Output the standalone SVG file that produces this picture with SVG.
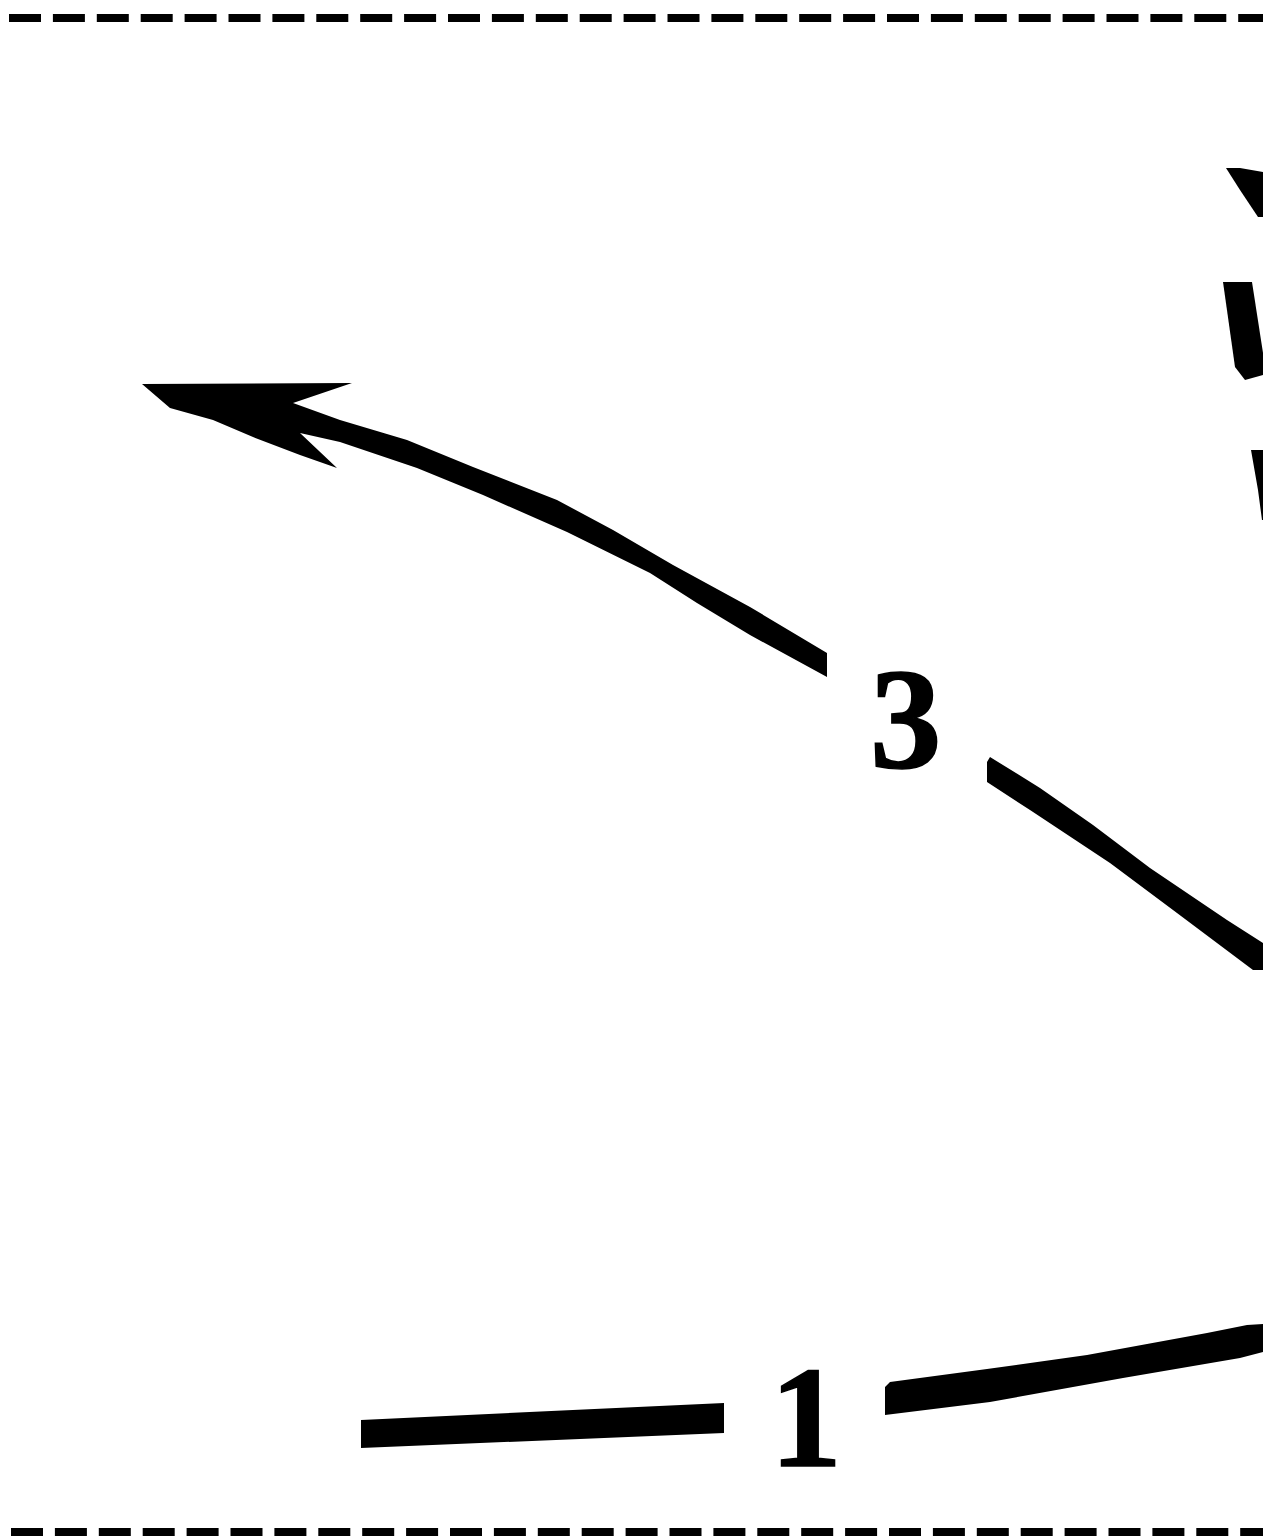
<svg xmlns="http://www.w3.org/2000/svg" width="1263" height="1540" viewBox="0 0 1263 1540">
<style>
.dash{fill:none;stroke:#000;stroke-width:8;stroke-dasharray:32 11.9}
.ink{fill:#000;stroke:none}
.num{font-family:"Liberation Serif",serif;font-weight:700;fill:#000;stroke:#000;stroke-width:1.5}
</style>
<rect width="1263" height="1540" fill="#fff"/>
<g id="boundaries">
<path class="dash" d="M9 18H1263"/>
<path class="dash" d="M11 1532H1263"/>
</g>
<g id="connectors">
<path class="ink" d="M142 384L352 383L293 403L340 420L407 440L473 467L557 500L613 530L673 565L750 607L827 653V677L750 635L697 603L650 573L567 532L483 495L417 468L340 442L300 433L337 468L300 455L253 437L213 420L170 408Z"/>
<path class="ink" d="M990 757L1040 788L1093 825L1150 868L1227 920L1263 943V970H1253L1177 913L1110 863L1030 810L987 782V762Z"/>
<path class="ink" d="M361 1420L724 1403V1433L361 1448Z"/>
<path class="ink" d="M885 1387L890 1382L987 1369L1087 1355L1207 1333L1247 1325L1263 1324V1352L1240 1358L1123 1378L990 1402L885 1415Z"/>
<path class="ink" d="M1226 168H1240L1263 172V217H1258L1240 190Z"/>
<path class="ink" d="M1223 282H1252L1263 353V375L1245 380L1235 367Z"/>
<path class="ink" d="M1251 450H1263V520H1262L1258 490Z"/>
</g>
<g id="label-3"><text class="num" x="870" y="768" font-size="143">3</text></g>
<g id="label-1"><text class="num" x="770" y="1466" font-size="144">1</text></g>
</svg>
